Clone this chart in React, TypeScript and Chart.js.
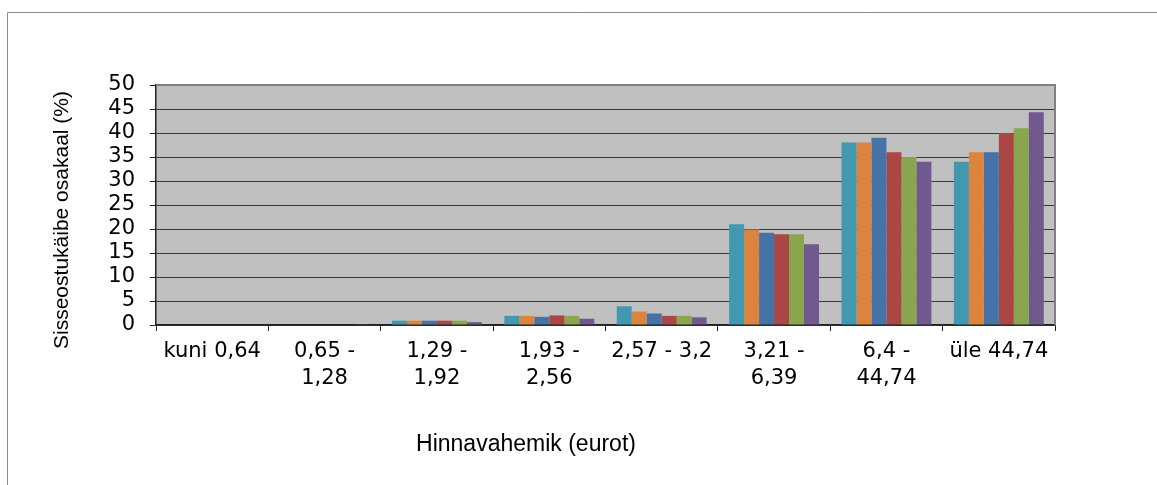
import React, { useEffect, useRef } from "react";
import { Chart, registerables } from "chart.js";

Chart.register(...registerables);

const categories: (string | string[])[] = [
  "kuni 0,64",
  ["0,65 -", "1,28"],
  ["1,29 -", "1,92"],
  ["1,93 -", "2,56"],
  "2,57 - 3,2",
  ["3,21 -", "6,39"],
  ["6,4 -", "44,74"],
  "üle 44,74",
];

const series1 = [0, 0, 0.9, 1.9, 3.9, 21, 38, 34];
const series2 = [0, 0, 0.9, 1.9, 2.8, 19.9, 38, 36];
const series3 = [0, 0, 0.9, 1.7, 2.4, 19.2, 39, 36];
const series4 = [0, 0, 0.9, 2.0, 1.9, 18.9, 36, 40];
const series5 = [0, 0, 0.9, 1.9, 1.9, 18.9, 35, 41];
const series6 = [0, 0.15, 0.6, 1.3, 1.6, 16.8, 34, 44.3];

const seriesNames = ["Seeria 1", "Seeria 2", "Seeria 3", "Seeria 4", "Seeria 5", "Seeria 6"];
const seriesColors = ["#4198AF", "#DB843D", "#4572A7", "#AA4643", "#89A54E", "#71588F"];

const xTitle = "Hinnavahemik (eurot)";
const yTitle = "Sisseostukäibe osakaal (%)";

const decorPlugin = {
  id: "decor",
  beforeDraw(chart: any) {
    const { ctx, chartArea } = chart;
    ctx.save();
    ctx.fillStyle = "#ffffff";
    ctx.fillRect(0, 0, chart.width, chart.height);
    ctx.strokeStyle = "#8a8a8a";
    ctx.lineWidth = 1;
    ctx.beginPath();
    ctx.moveTo(7.5, chart.height + 5);
    ctx.lineTo(7.5, 12.5);
    ctx.lineTo(chart.width + 5, 12.5);
    ctx.stroke();
    ctx.fillStyle = "#C0C0C0";
    ctx.fillRect(chartArea.left, chartArea.top, chartArea.right - chartArea.left, chartArea.bottom - chartArea.top);
    ctx.restore();
  },
  afterDraw(chart: any) {
    const { ctx, chartArea } = chart;
    ctx.save();
    ctx.strokeStyle = "#808080";
    ctx.lineWidth = 2;
    ctx.beginPath();
    ctx.moveTo(chartArea.left, chartArea.top);
    ctx.lineTo(chartArea.right, chartArea.top);
    ctx.lineTo(chartArea.right, chartArea.bottom);
    ctx.stroke();
    ctx.fillStyle = "#000000";
    ctx.textAlign = "center";
    ctx.textBaseline = "middle";
    ctx.font = "23px 'Liberation Sans', Arial, sans-serif";
    ctx.fillText(xTitle, 526, 445);
    ctx.font = "21px 'Liberation Sans', Arial, sans-serif";
    ctx.translate(62, 220);
    ctx.rotate(-Math.PI / 2);
    ctx.fillText(yTitle, 0, 0);
    ctx.restore();
  },
};

export default function App() {
  const ref = useRef<HTMLCanvasElement | null>(null);
  useEffect(() => {
    if (!ref.current) return;
    const data = [series1, series2, series3, series4, series5, series6];
    const chart = new Chart(ref.current, {
      type: "bar",
      data: {
        labels: categories as any,
        datasets: data.map((d, i) => ({
          label: seriesNames[i],
          data: d,
          backgroundColor: seriesColors[i],
          borderWidth: 0,
          categoryPercentage: 0.8,
          barPercentage: 1,
        })),
      },
      options: {
        responsive: false,
        animation: false,
        devicePixelRatio: 1,
        layout: { padding: { left: 0, right: 102, top: 85, bottom: 0 } },
        plugins: { legend: { display: false }, tooltip: { enabled: false } },
        scales: {
          x: {
            grid: {
              drawOnChartArea: false,
              drawTicks: true,
              tickLength: 6,
              color: "#222222",
            },
            border: { display: true, color: "#222222", width: 1.5 },
            ticks: {
              color: "#000000",
              maxRotation: 0,
              autoSkip: false,
              padding: 8,
              font: { family: "'DejaVu Sans', Verdana, sans-serif", size: 21, lineHeight: 1.24 },
            },
            afterFit(scale: any) {
              scale.height = 160;
            },
          },
          y: {
            min: 0,
            max: 50,
            ticks: {
              stepSize: 5,
              autoSkip: false,
              color: "#000000",
              padding: 15,
              font: { family: "'DejaVu Sans', Verdana, sans-serif", size: 21, lineHeight: 1.0 },
            },
            grid: {
              color: (c: any) => (c.tick && c.tick.value === 50 ? "rgba(0,0,0,0)" : "#3a3a3a"),
              tickColor: "#222222",
              tickLength: 6,
              lineWidth: 1,
            },
            border: { display: true, color: "#222222", width: 1.5 },
            afterFit(scale: any) {
              scale.width = 156;
            },
          },
        },
      },
      plugins: [decorPlugin],
    });
    return () => chart.destroy();
  }, []);
  return (
    <div style={{ position: "fixed", left: 0, top: 0, width: 1157, height: 485, background: "#fff" }}>
      <canvas ref={ref} width={1157} height={485} style={{ display: "block" }} />
    </div>
  );
}
